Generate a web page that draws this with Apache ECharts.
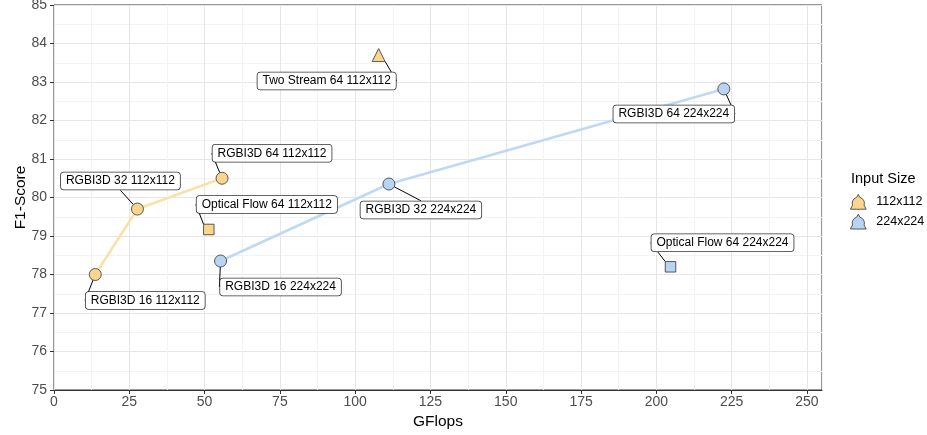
<!DOCTYPE html>
<html>
<head>
<meta charset="utf-8">
<script src="https://cdn.jsdelivr.net/npm/echarts@6/dist/echarts.min.js"></script>
<style>
  html, body { margin: 0; padding: 0; background: #fff; }
  #chart { width: 927px; height: 435px; }
</style>
</head>
<body>
<div id="chart"></div>
<script>
// Input sizes (legend groups)
const sizes = ['112x112', '224x224'];

// RGBI3D models, connected by a line per input size
const rgbi3dNames112 = ['RGBI3D 16 112x112', 'RGBI3D 32 112x112', 'RGBI3D 64 112x112'];
const rgbi3dFlops112 = [13.7, 27.7, 55.8];
const rgbi3dF1_112 = [78.0, 79.7, 80.5];

const rgbi3dNames224 = ['RGBI3D 16 224x224', 'RGBI3D 32 224x224', 'RGBI3D 64 224x224'];
const rgbi3dFlops224 = [55.3, 111.2, 222.4];
const rgbi3dF1_224 = [78.35, 80.35, 82.82];

// Other models
const otherNames112 = ['Optical Flow 64 112x112', 'Two Stream 64 112x112'];
const otherFlops112 = [51.4, 107.8];
const otherF1_112 = [79.17, 83.7];
const otherShapes112 = ['rect', 'triangle'];

const otherNames224 = ['Optical Flow 64 224x224'];
const otherFlops224 = [204.7];
const otherF1_224 = [78.2];
const otherShapes224 = ['rect'];

// Axis ticks
const xTicks = [0, 25, 50, 75, 100, 125, 150, 175, 200, 225, 250];
const yTicks = [75, 76, 77, 78, 79, 80, 81, 82, 83, 84, 85];

// Where each label box sits relative to its point (px)
const labelOffsets = {
  'RGBI3D 16 112x112': [50, 26],
  'RGBI3D 32 112x112': [-17, -28],
  'RGBI3D 64 112x112': [50, -25],
  'Optical Flow 64 112x112': [58, -25],
  'Two Stream 64 112x112': [-52, 26],
  'RGBI3D 16 224x224': [60, 26],
  'RGBI3D 32 224x224': [32, 26],
  'RGBI3D 64 224x224': [-50, 25],
  'Optical Flow 64 224x224': [52, -24]
};

const FONT = '"Liberation Sans", Arial, sans-serif';
const fillColors = { '112x112': '#f9d58d', '224x224': '#b8d4f2' };
const lineColors = { '112x112': '#fbe1a9', '224x224': '#bfd9f4' };
const symbolSizes = { circle: 12, rect: 10.5, triangle: 13 };

function pointItems(names, xs, ys, shapes) {
  return names.map((n, i) => {
    const shape = shapes ? shapes[i] : 'circle';
    return { name: n, value: [xs[i], ys[i]], symbol: shape, symbolSize: symbolSizes[shape] };
  });
}

function pointSeries(size, items) {
  return {
    name: size,
    type: 'scatter',
    z: 5,
    data: items,
    itemStyle: { color: fillColors[size], borderColor: '#333', borderWidth: 0.8, opacity: 1 },
    label: {
      show: true,
      position: 'inside',
      formatter: p => p.name,
      fontFamily: FONT,
      fontSize: 12,
      color: '#000',
      backgroundColor: '#fff',
      borderColor: '#333',
      borderWidth: 0.8,
      borderRadius: 3,
      padding: [3, 5, 2, 5]
    },
    labelLine: { show: true, lineStyle: { color: '#000', width: 1 } },
    labelLayout: function (params) {
      const name = items[params.dataIndex].name;
      const off = labelOffsets[name] || [0, 0];
      return { dx: off[0], dy: off[1] };
    },
    emphasis: { disabled: true }
  };
}

function lineSeries(size, xs, ys) {
  return {
    name: size + ' RGBI3D',
    type: 'line',
    z: 3,
    symbol: 'none',
    silent: true,
    data: xs.map((x, i) => [x, ys[i]]),
    lineStyle: { color: lineColors[size], width: 2.6 },
    emphasis: { disabled: true }
  };
}

// Legend key: outline of a circle overlaid with a triangle
const legendIcon = 'path://M10,1.5 L11.61,4.51 A6.2,6.2 0 0 1 15.87,12.5 L18,16.5 L11.56,16.5 ' +
  'A6.2,6.2 0 0 1 8.44,16.5 L2,16.5 L4.13,12.5 A6.2,6.2 0 0 1 8.39,4.51 Z';

const chart = echarts.init(document.getElementById('chart'), null, { renderer: 'canvas' });

chart.setOption({
  animation: false,
  backgroundColor: '#fff',
  textStyle: { fontFamily: FONT },
  title: {
    text: 'Input Size',
    left: 846,
    top: 166,
    textStyle: { fontFamily: FONT, fontSize: 14.5, fontWeight: 'normal', color: '#000' }
  },
  legend: {
    data: sizes,
    orient: 'vertical',
    left: 845,
    top: 189,
    itemWidth: 16,
    itemHeight: 15,
    itemGap: 4,
    icon: legendIcon,
    itemStyle: { borderColor: '#333', borderWidth: 0.8 },
    textStyle: { fontFamily: FONT, fontSize: 12.5, color: '#000', padding: [3, 0, 0, 5] },
    selectedMode: false
  },
  grid: {
    left: 54, right: 105, top: 5, bottom: 45,
    containLabel: false,
    outerBoundsMode: 'none',
    show: true, borderColor: '#333', borderWidth: 1, backgroundColor: 'transparent'
  },
  xAxis: [
    {
      type: 'value',
      min: 0, max: 255, interval: 25,
      name: 'GFlops',
      nameLocation: 'middle',
      nameGap: 24,
      nameMoveOverlap: false,
      nameTextStyle: { fontFamily: FONT, fontSize: 15.5, color: '#000' },
      axisLine: { show: true, onZero: false, lineStyle: { color: '#333', width: 1 } },
      axisTick: { show: true, length: 4, lineStyle: { color: '#333' }, customValues: xTicks },
      axisLabel: { color: '#4d4d4d', fontSize: 14, margin: 5, fontFamily: FONT, customValues: xTicks },
      splitLine: { show: true, lineStyle: { color: '#e6e6e6', width: 1 } },
      z: 1
    },
    {
      // half-step grid lines
      type: 'value',
      position: 'bottom',
      min: 0, max: 255, interval: 12.5,
      axisLine: { show: false },
      axisTick: { show: false },
      axisLabel: { show: false },
      splitLine: { show: true, lineStyle: { color: '#f3f3f3', width: 1 } },
      z: 0
    }
  ],
  yAxis: {
    type: 'value',
    min: 75, max: 85, interval: 1,
    name: 'F1-Score',
    nameLocation: 'middle',
    nameGap: 25,
    nameMoveOverlap: false,
    nameTextStyle: { fontFamily: FONT, fontSize: 15.5, color: '#000' },
    axisLine: { show: true, onZero: false, lineStyle: { color: '#333', width: 1 } },
    axisTick: { show: true, length: 4, lineStyle: { color: '#333' } },
    axisLabel: { color: '#4d4d4d', fontSize: 14, margin: 7, fontFamily: FONT, customValues: yTicks },
    splitLine: { show: true, lineStyle: { color: '#e6e6e6', width: 1 } },
    minorTick: { show: false, splitNumber: 2 },
    minorSplitLine: { show: true, lineStyle: { color: '#f3f3f3', width: 1 } }
  },
  series: [
    lineSeries('112x112', rgbi3dFlops112, rgbi3dF1_112),
    lineSeries('224x224', rgbi3dFlops224, rgbi3dF1_224),
    pointSeries('112x112', pointItems(rgbi3dNames112, rgbi3dFlops112, rgbi3dF1_112)
      .concat(pointItems(otherNames112, otherFlops112, otherF1_112, otherShapes112))),
    pointSeries('224x224', pointItems(rgbi3dNames224, rgbi3dFlops224, rgbi3dF1_224)
      .concat(pointItems(otherNames224, otherFlops224, otherF1_224, otherShapes224)))
  ]
});
</script>
</body>
</html>
